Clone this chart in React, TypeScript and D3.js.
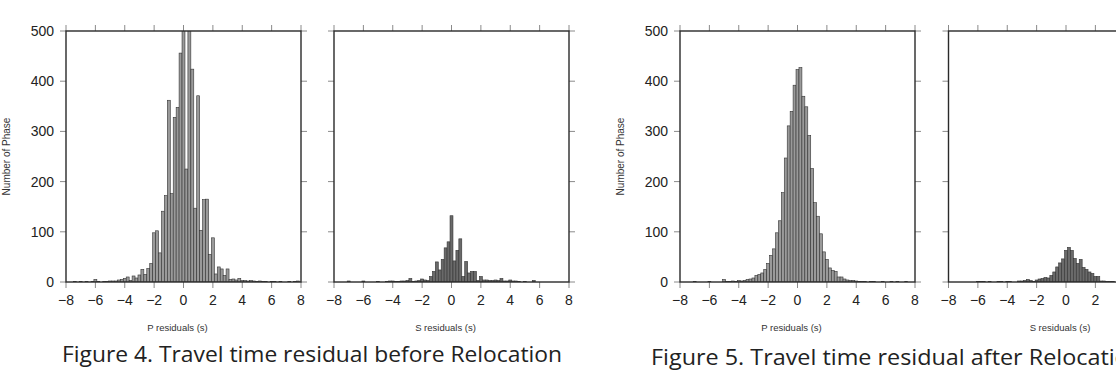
import React from "react";
import * as d3 from "d3";

// Bin centres: -8.0 .. 8.0 step 0.2 (81 bins)
const binCenters: number[] = d3.range(0, 81).map((i) => +(-8 + 0.2 * i).toFixed(1));

// Figure 4 – P residuals before relocation
const pBefore: number[] = [
  0, 0, 0, 1, 0, 1, 0, 1, 0, 1,
  5, 1, 0, 1, 1, 2, 2, 2, 4, 5,
  7, 10, 3, 12, 8, 14, 25, 15, 27, 37,
  98, 102, 58, 141, 172, 362, 176, 328, 348, 456,
  530, 225, 520, 424, 147, 371, 103, 164, 165, 55,
  88, 16, 30, 26, 13, 26, 5, 6, 4, 7,
  3, 3, 2, 3, 2, 1, 2, 1, 1, 0,
  1, 1, 0, 1, 0, 0, 1, 0, 1, 2,
  0,
];
// Figure 4 – S residuals before relocation
const sBefore: number[] = [
  0, 0, 0, 0, 0, 2, 0, 0, 0, 0,
  2, 0, 0, 0, 0, 1, 0, 0, 1, 2,
  2, 1, 1, 2, 2, 3, 7, 1, 2, 3,
  6, 4, 3, 11, 21, 40, 24, 45, 68, 80,
  132, 42, 63, 86, 11, 41, 18, 21, 21, 3,
  11, 4, 4, 3, 3, 4, 3, 7, 2, 2,
  4, 2, 2, 1, 0, 1, 0, 0, 3, 0,
  0, 0, 0, 0, 0, 0, 0, 0, 0, 0,
  0,
];
// Figure 5 – P residuals after relocation
const pAfter: number[] = [
  0, 0, 0, 0, 0, 1, 0, 0, 0, 0,
  1, 0, 0, 0, 0, 5, 1, 1, 2, 1,
  3, 2, 3, 5, 6, 8, 13, 15, 18, 25,
  37, 53, 66, 98, 122, 178, 247, 311, 340, 392,
  423, 427, 370, 349, 292, 226, 158, 131, 96, 60,
  45, 28, 23, 21, 10, 10, 6, 4, 3, 3,
  2, 1, 1, 1, 0, 1, 1, 0, 0, 1,
  0, 0, 1, 0, 1, 0, 0, 1, 0, 0,
  0,
];
// Figure 5 – S residuals after relocation
const sAfter: number[] = [
  0, 0, 0, 0, 0, 0, 0, 0, 0, 0,
  1, 1, 1, 0, 1, 0, 0, 1, 1, 0,
  1, 1, 0, 0, 2, 2, 3, 5, 3, 1,
  4, 6, 7, 9, 8, 13, 20, 30, 38, 46,
  63, 69, 63, 47, 37, 45, 29, 25, 20, 17,
  11, 11, 2, 2, 1, 1, 1, 0, 1, 0,
  1, 0, 0, 0, 0, 0, 0, 0, 0, 0,
  0, 0, 0, 0, 0, 0, 0, 0, 0, 0,
  0,
];

const xTicks: number[] = [-8, -6, -4, -2, 0, 2, 4, 6, 8];
const yTicks: number[] = [0, 100, 200, 300, 400, 500];
const yLabel = "Number of Phase";
const pLabel = "P residuals (s)";
const sLabel = "S residuals (s)";
const caption4 = "Figure 4. Travel time residual before Relocation";
const caption5 = "Figure 5. Travel time residual after Relocation";

const W = 1116;
const H = 374;
const TOP = 31;
const BOTTOM = 282;
const PW = 235;

type PanelSpec = {
  id: string;
  left: number;
  values: number[];
  fill: string;
  title: string;
  yLabels: boolean;
};

const panels: PanelSpec[] = [
  { id: "p1", left: 66, values: pBefore, fill: "#9a9a9a", title: pLabel, yLabels: true },
  { id: "p2", left: 334, values: sBefore, fill: "#6a6a6a", title: sLabel, yLabels: false },
  { id: "p3", left: 680, values: pAfter, fill: "#9a9a9a", title: pLabel, yLabels: true },
  { id: "p4", left: 948.5, values: sAfter, fill: "#6a6a6a", title: sLabel, yLabels: false },
];

const fmt = (v: number) => (v < 0 ? "\u2212" + Math.abs(v) : String(v));
const FONT = "'Liberation Sans', Arial, Helvetica, sans-serif";
const CAPFONT = "'Open Sans', 'Noto Sans', sans-serif";

function Panel({ spec }: { spec: PanelSpec }) {
  const x = d3.scaleLinear().domain([-8, 8]).range([spec.left, spec.left + PW]);
  const y = d3.scaleLinear().domain([0, 500]).range([BOTTOM, TOP]);
  const bw = x(0.2) - x(0);
  const tickLen = 6;
  const tickColor = "#8a8a8a";
  const frameColor = "#2a2a2a";
  const cx = (x(-8) + x(8)) / 2;
  return (
    <g>
      <defs>
        <clipPath id={"clip-" + spec.id}>
          <rect x={x(-8)} y={TOP} width={PW} height={BOTTOM - TOP} />
        </clipPath>
      </defs>
      <g clipPath={`url(#clip-${spec.id})`}>
        {spec.values.map((v, i) =>
          v > 0 ? (
            <rect
              key={i}
              x={x(binCenters[i] - 0.1)}
              y={y(v)}
              width={bw}
              height={y(0) - y(v)}
              fill={spec.fill}
              stroke="#333"
              strokeWidth={0.6}
            />
          ) : null
        )}
      </g>
      {xTicks.map((t) => (
        <g key={"xt" + t}>
          <line x1={x(t)} x2={x(t)} y1={TOP} y2={TOP - tickLen} stroke={tickColor} strokeWidth={1} />
          <line x1={x(t)} x2={x(t)} y1={BOTTOM} y2={BOTTOM + tickLen} stroke={tickColor} strokeWidth={1} />
          {x(t) < W - 4 ? (
            <text x={x(t)} y={305} textAnchor="middle" fontFamily={FONT} fontSize={14} fill="#222">
              {fmt(t)}
            </text>
          ) : null}
        </g>
      ))}
      {yTicks.map((t) => (
        <g key={"yt" + t}>
          <line x1={x(-8)} x2={x(-8) - tickLen} y1={y(t)} y2={y(t)} stroke={tickColor} strokeWidth={1} />
          <line x1={x(8)} x2={x(8) + tickLen} y1={y(t)} y2={y(t)} stroke={tickColor} strokeWidth={1} />
          {spec.yLabels ? (
            <text
              x={x(-8) - 12}
              y={y(t)}
              dy="0.36em"
              textAnchor="end"
              fontFamily={FONT}
              fontSize={14}
              fill="#222"
            >
              {t}
            </text>
          ) : null}
        </g>
      ))}
      <rect
        x={x(-8)}
        y={TOP}
        width={PW}
        height={BOTTOM - TOP}
        fill="none"
        stroke={frameColor}
        strokeWidth={1.4}
      />
      {spec.yLabels ? (
        <text
          transform={`translate(${x(-8) - 56.5},${(TOP + BOTTOM) / 2}) rotate(-90)`}
          textAnchor="middle"
          fontFamily={FONT}
          fontSize={10}
          fill="#333"
        >
          {yLabel}
        </text>
      ) : null}
      <text x={cx - 6} y={331} textAnchor="middle" fontFamily={FONT} fontSize={9.5} fill="#333">
        {spec.title}
      </text>
    </g>
  );
}

export default function App() {
  return (
    <svg
      width={W}
      height={H}
      viewBox={`0 0 ${W} ${H}`}
      style={{ position: "absolute", left: 0, top: 0, background: "#fff" }}
    >
      <rect x={0} y={0} width={W} height={H} fill="#fff" />
      {panels.map((p) => (
        <Panel key={p.id} spec={p} />
      ))}
      <text
        x={62}
        y={362}
        fontFamily={CAPFONT}
        fontSize={22}
        fill="#222"
        textLength={500}
        lengthAdjust="spacingAndGlyphs"
      >
        {caption4}
      </text>
      <text
        x={651}
        y={365}
        fontFamily={CAPFONT}
        fontSize={22}
        fill="#222"
        textLength={492}
        lengthAdjust="spacingAndGlyphs"
      >
        {caption5}
      </text>
    </svg>
  );
}
